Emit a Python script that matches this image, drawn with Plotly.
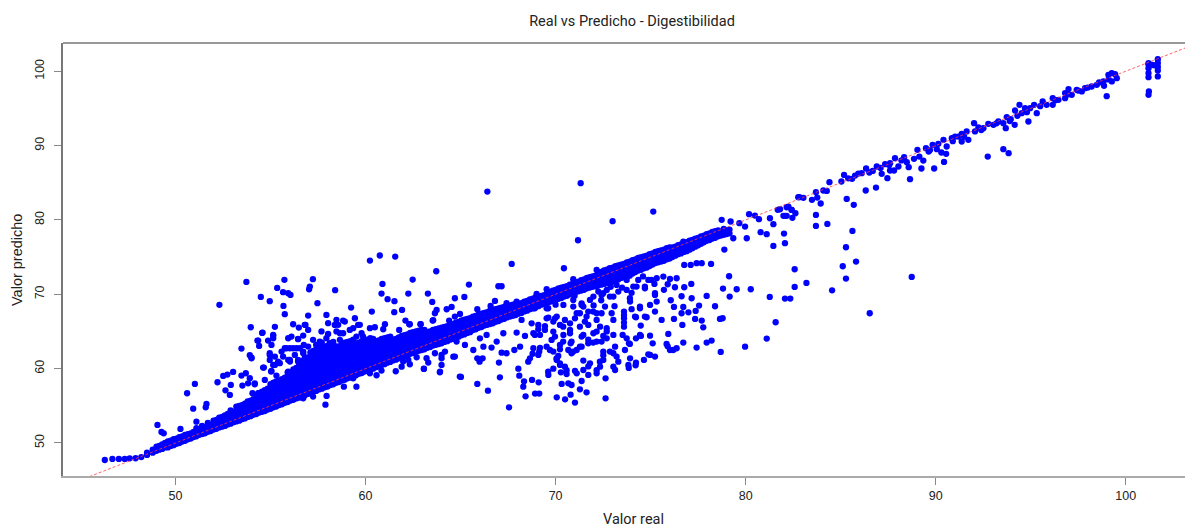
import plotly.graph_objects as go

TITLE = "Real vs Predicho - Digestibilidad"
X_LABEL = "Valor real"
Y_LABEL = "Valor predicho"
X_TICKS = [50, 60, 70, 80, 90, 100]
Y_TICKS = [50, 60, 70, 80, 90, 100]
REF_LINE = [44, 104]

# dense band: (x, [y values at that x])
band_low = [
 (47.9,[47.95]),(48.2,[48.1]),(48.5,[48.4,48.7]),(48.8,[48.7,49.1]),(49.0,[48.95,49.5]),(49.3,[49.2,49.8]),(49.6,[49.4,50.2]),
 (49.9,[49.7,50.5]),(50.2,[50.0,50.8]),(50.5,[50.3,51.1]),(50.8,[50.6,51.3]),(51.1,[50.9,51.7,52.0]),(51.4,[51.2,51.9,52.3]),
 (51.7,[51.5,52.2,52.7]),(52.0,[51.8,52.5,53.0]),(52.3,[52.1,52.8,53.4]),(52.6,[52.3,53.0,53.7]),(52.9,[52.6,53.3,54.0,54.4]),
 (53.2,[52.9,53.6,54.3,54.9]),(53.5,[53.2,53.9,54.6,55.1]),(53.8,[53.5,54.2,54.9,55.6]),(54.1,[53.8,54.5,55.2,55.9]),
 (54.4,[54.1,54.8,55.5,56.2,56.7]),(54.7,[54.3,55.0,55.7,56.4,57.1]),(55.0,[54.6,55.3,56.0,56.7,57.4,57.9]),
 (55.3,[54.9,55.6,56.3,57.0,57.7,58.3]),(55.6,[55.2,55.9,56.6,57.3,58.0,58.6]),(55.9,[55.5,56.2,56.9,57.6,58.3,59.0,59.5]),
]
fill_low = [
 (49.15,[49.1,49.6]),(49.45,[49.4,50.0]),(49.75,[49.6,50.3]),(50.05,[49.9,50.6]),(50.35,[50.2,50.9]),(50.65,[50.5,51.2]),
 (50.95,[50.8,51.5]),(51.25,[51.1,51.8]),(51.55,[51.3,52.1]),(51.85,[51.6,52.4]),(52.15,[51.9,52.6,53.1]),(52.45,[52.2,52.9,53.5]),
 (52.75,[52.5,53.2,53.9]),(53.05,[52.8,53.5,54.2]),(53.35,[53.0,53.7,54.4,55.0]),(53.65,[53.3,54.0,54.7,55.3]),
 (53.95,[53.6,54.3,55.0,55.7]),(54.25,[53.9,54.6,55.3,56.0,56.4]),(54.55,[54.2,54.9,55.6,56.3,56.9]),(54.85,[54.5,55.2,55.9,56.6,57.3]),
 (55.15,[54.8,55.5,56.2,56.9,57.6,58.1]),(55.45,[55.1,55.8,56.5,57.2,57.9,58.4]),(55.75,[55.4,56.1,56.8,57.5,58.2,58.8]),
 (56.05,[55.7,56.4,57.1,57.8,58.5,59.2]),
]
band_mid = [
 (56.2,[55.8,56.5,57.2,57.9,58.6,59.3,59.9]),(56.5,[56.1,56.8,57.5,58.2,58.9,59.6,60.3,60.8]),
 (56.8,[56.4,57.1,57.8,58.5,59.2,59.9,60.6,61.3]),(57.1,[56.7,57.4,58.1,58.8,59.5,60.2,60.9,61.6,62.2]),
 (57.4,[57.0,57.7,58.4,59.1,59.8,60.5,61.2,61.9,62.6,63.2]),(57.7,[57.3,58.0,58.7,59.4,60.1,60.8,61.5,62.2,62.9,63.5]),
 (58.0,[57.6,58.3,59.0,59.7,60.4,61.1,61.8,62.5,63.1]),(58.3,[57.9,58.6,59.3,60.0,60.7,61.4,62.1,62.8,63.6]),
 (58.6,[58.2,58.9,59.6,60.3,61.0,61.7,62.4,63.0]),(58.9,[58.5,59.2,59.9,60.6,61.3,62.0,62.7,63.5]),
 (59.2,[58.8,59.5,60.2,60.9,61.6,62.3,63.0,63.7]),(59.5,[59.1,59.8,60.5,61.2,61.9,62.6,63.4]),
 (59.8,[59.4,60.1,60.8,61.5,62.2,62.9,63.7]),(60.1,[59.7,60.4,61.1,61.8,62.5,63.2,63.9]),
 (60.4,[60.0,60.7,61.4,62.1,62.8,63.5,64.0]),(60.7,[60.3,61.0,61.7,62.4,63.1,63.8]),
 (61.0,[60.6,61.3,62.0,62.7,63.4,64.1]),(61.3,[60.9,61.6,62.3,63.0,63.7,64.3]),
 (61.6,[61.2,61.9,62.6,63.3,64.0]),(61.9,[61.5,62.2,62.9,63.6,64.4]),
 (62.2,[61.8,62.5,63.2,63.9,64.6]),(62.5,[62.1,62.8,63.5,64.2,64.9]),
 (62.8,[62.4,63.1,63.8,64.5,65.1]),(63.1,[62.6,63.3,64.0,64.7,65.2]),
 (63.4,[62.9,63.6,64.3,65.0]),(63.7,[63.2,63.9,64.6,65.3]),
 (64.0,[63.4,64.1,64.8,65.5]),(64.3,[63.7,64.4,65.1,65.7]),
 (64.6,[64.0,64.7,65.4,66.0]),(64.9,[64.3,65.0,65.7,66.3]),
 (65.2,[64.6,65.3,66.0,66.6]),(65.5,[64.9,65.6,66.3,66.8]),
 (65.8,[65.3,66.0,66.7,67.1]),(66.1,[65.6,66.3,66.9,67.4]),
 (66.4,[65.9,66.6,67.2,67.6]),(66.7,[66.1,66.8,67.4,67.9]),
 (67.0,[66.4,67.1,67.7,68.1]),(67.3,[66.7,67.4,68.0,68.3]),
 (67.6,[67.0,67.6,68.2,68.5]),(67.9,[67.2,67.9,68.5,68.7]),
]
fill_mid = [
 (56.35,[56.0,56.7,57.4,58.1,58.8,59.5,60.1]),(56.65,[56.3,57.0,57.7,58.4,59.1,59.8,60.5,61.0]),(56.95,[56.6,57.3,58.0,58.7,59.4,60.1,60.8,61.5]),
 (57.25,[56.9,57.6,58.3,59.0,59.7,60.4,61.1,61.8,62.4]),(57.55,[57.2,57.9,58.6,59.3,60.0,60.7,61.4,62.1,62.8]),
 (57.85,[57.5,58.2,58.9,59.6,60.3,61.0,61.7,62.4,62.9]),(58.15,[57.8,58.5,59.2,59.9,60.6,61.3,62.0,62.7,63.4]),
 (58.45,[58.1,58.8,59.5,60.2,60.9,61.6,62.3,63.0]),(58.75,[58.4,59.1,59.8,60.5,61.2,61.9,62.6,63.3]),
 (59.05,[58.7,59.4,60.1,60.8,61.5,62.2,62.9,63.6]),(59.35,[59.0,59.7,60.4,61.1,61.8,62.5,63.2,63.9]),
 (59.65,[59.3,60.0,60.7,61.4,62.1,62.8,63.5]),(59.95,[59.6,60.3,61.0,61.7,62.4,63.1,63.8]),(60.25,[59.9,60.6,61.3,62.0,62.7,63.4,64.1]),
 (60.55,[60.2,60.9,61.6,62.3,63.0,63.7]),(60.85,[60.5,61.2,61.9,62.6,63.3,64.0]),(61.15,[60.8,61.5,62.2,62.9,63.6,64.2]),
 (61.45,[61.1,61.8,62.5,63.2,63.9]),(61.75,[61.4,62.1,62.8,63.5,64.2]),(62.05,[61.7,62.4,63.1,63.8,64.5]),(62.35,[62.0,62.7,63.4,64.1,64.8]),
 (62.65,[62.3,63.0,63.7,64.4,65.0]),(62.95,[62.5,63.2,63.9,64.6,65.2]),(63.25,[62.8,63.5,64.2,64.9]),(63.55,[63.1,63.8,64.5,65.2]),
 (63.85,[63.3,64.0,64.7,65.4]),(64.15,[63.6,64.3,65.0,65.6]),(64.45,[63.9,64.6,65.3,65.9]),(64.75,[64.2,64.9,65.6,66.2]),
 (65.05,[64.5,65.2,65.9,66.5]),(65.35,[64.8,65.5,66.2,66.7]),(65.65,[65.2,65.9,66.6,67.0]),(65.95,[65.5,66.2,66.8,67.3]),
 (66.25,[65.8,66.5,67.1,67.5]),(66.55,[66.0,66.7,67.3,67.8]),(66.85,[66.3,67.0,67.6,68.0]),(67.15,[66.6,67.3,67.9,68.2]),
 (67.45,[66.9,67.5,68.1,68.4]),(67.75,[67.1,67.8,68.4,68.6]),(68.05,[67.4,68.1,68.7]),
]
band_high = [
 (68.2,[67.5,68.2,68.8]),(68.5,[67.8,68.5,69.1]),(68.8,[68.1,68.8,69.4]),(69.1,[68.4,69.1,69.7]),(69.4,[68.7,69.4,69.9]),
 (69.7,[69.0,69.7,70.3]),(70.0,[69.2,69.9,70.6]),(70.3,[69.5,70.2,70.9]),(70.6,[69.8,70.5,71.1]),(70.9,[70.1,70.8,71.4]),
 (71.2,[70.4,71.1,71.7]),(71.5,[70.6,71.3,72.0]),(71.8,[70.9,71.6,72.3]),(72.1,[71.1,71.8,72.5]),(72.4,[71.3,72.0,72.7,73.0]),
 (72.7,[71.5,72.2,72.9,73.3]),(73.0,[71.7,72.4,73.1,73.6]),(73.3,[72.0,72.7,73.4,73.9]),(73.6,[72.3,73.0,73.7,74.1]),
 (73.9,[72.5,73.2,73.9,74.4]),(74.2,[73.0,73.7,74.3,74.7]),(74.5,[73.3,74.0,74.6,75.0]),(74.8,[73.6,74.3,74.9,75.2]),
 (75.1,[74.0,74.6,75.2,75.5]),(75.4,[74.3,74.9,75.5,75.8]),(75.7,[74.5,75.2,75.8,76.0]),(76.0,[74.8,75.5,76.1,76.3]),
 (76.3,[75.2,75.8,76.4]),(76.6,[75.5,76.1,76.7]),(76.9,[75.8,76.4,77.0]),(77.2,[76.2,76.8,77.3]),(77.5,[76.6,77.2,77.6]),
 (77.8,[77.0,77.5,77.9]),(78.1,[77.3,77.8,78.2]),(78.4,[77.6,78.2,78.5]),(78.7,[77.9,78.4]),(79.0,[78.1,78.6]),
]
fill_high = [
 (68.35,[67.7,68.4,69.0]),(68.65,[68.0,68.7,69.3]),(68.95,[68.3,69.0,69.6]),(69.25,[68.6,69.3,69.8]),(69.55,[68.9,69.6,70.2]),
 (69.85,[69.1,69.8,70.5]),(70.15,[69.4,70.1,70.8]),(70.45,[69.7,70.4,71.0]),(70.75,[70.0,70.7,71.3]),(71.05,[70.3,71.0,71.6]),
 (71.35,[70.5,71.2,71.9]),(71.65,[70.8,71.5,72.2]),(71.95,[71.0,71.7,72.4]),(72.25,[71.2,71.9,72.6,72.9]),(72.55,[71.4,72.1,72.8,73.2]),
 (72.85,[71.6,72.3,73.0,73.5]),(73.15,[71.9,72.6,73.3,73.8]),(73.45,[72.2,72.9,73.6,74.0]),(73.75,[72.4,73.1,73.8,74.3]),
 (74.05,[72.8,73.5,74.1,74.6]),(74.35,[73.2,73.9,74.5,74.9]),(74.65,[73.5,74.2,74.8,75.1]),(74.95,[73.8,74.5,75.1,75.4]),
 (75.25,[74.2,74.8,75.4,75.7]),(75.55,[74.4,75.1,75.7,75.9]),(75.85,[74.7,75.4,76.0,76.2]),(76.15,[75.0,75.7,76.3]),
 (76.45,[75.4,76.0,76.6]),(76.75,[75.7,76.3,76.9]),(77.05,[76.0,76.6,77.2]),(77.35,[76.4,77.0,77.5]),(77.65,[76.8,77.4,77.8]),
 (77.95,[77.2,77.7,78.1]),(78.25,[77.5,78.0,78.4]),(78.55,[77.8,78.3,78.6]),(78.85,[78.0,78.5,78.8]),(79.15,[78.2,78.7]),
]

# scattered points above the band
upper_pts = [
 (46.28,47.71),(46.68,47.85),(47.02,47.85),(47.33,47.85),(47.59,47.94),
 (49.05,52.43),(49.26,51.48),(49.38,51.3),(50.26,51.89),(51.1,52.87),(50.93,54.62),(51.63,55.25),(51.59,54.8),(50.61,56.69),
 (51.02,57.94),(52.21,58.17),(52.51,59.02),(52.73,59.2),(53.03,59.56),(52.91,57.81),(52.63,57.09),(52.86,56.46),(53.47,59.07),
 (53.7,59.38),(53.91,58.71),(53.52,57.72),(53.82,58.03),(54.17,57.9),(54.05,56.69),(54.35,56.69),(53.47,62.7),(53.91,61.8),
 (54.0,61.49),(54.65,60.14),(55.03,59.6),(55.31,59.07),(55.05,63.19),(54.4,63.06),(54.31,63.78),(54.56,64.81),(53.96,65.57),
 (55.23,65.62),(54.87,63.78),(55.14,64.45),(54.96,61.85),(54.96,61.17),(55.4,60.95),(55.23,60.5),(55.66,61.62),(55.75,62.74),
 (56.02,62.74),(56.37,62.74),(56.1,64.31),(56.45,64.0),(56.72,64.45),(56.19,65.97),(56.49,65.53),(56.84,65.88),(56.98,65.21),
 (56.75,63.19),(56.98,62.97),(56.02,61.17),(56.45,61.17),(56.72,62.07),(55.93,59.6),(56.19,58.93),(53.73,71.67),(52.31,68.58),
 (54.49,69.65),(54.96,69.07),(55.35,70.86),(55.73,71.94),(55.66,70.28),(55.93,70.15),(56.05,69.92),(55.68,68.44),(55.75,67.32),
 (56.98,67.14),(57.03,70.68),(57.07,71.04),(57.23,72.03),(57.47,68.8),(58.4,70.55),(57.94,67.23),(59.24,68.22),(60.23,74.54),
 (60.75,75.22),(61.56,75.08),(60.89,71.4),(60.84,70.1),(61.16,69.34),(61.52,69.07),(60.33,67.68),(61.51,67.59),(59.44,66.78),
 (58.47,66.56),(58.82,66.47),(58.03,66.11),(58.38,65.88),(59.61,65.88),(59.35,65.44),(61.02,65.97),(60.93,65.3),(60.23,65.44),
 (60.49,65.57),(62.1,66.47),(62.33,65.97),(62.89,65.97),(63.56,66.51),(64.4,66.47),(57.68,65.0),(57.24,63.87),(57.94,64.09),
 (58.82,64.76),(58.47,65.0),(59.79,64.76),(59.52,64.31),(58.82,63.42),(61.77,65.21),
 (66.41,83.82),(71.32,84.95),(75.14,81.13),(73.0,79.83),(71.18,77.27),(67.69,74.09),(70.44,73.5),(63.72,73.1),(62.48,71.98),
 (65.44,71.31),(66.99,71.08),(67.16,71.08),(62.25,70.1),(63.28,70.1),(64.7,69.47),(65.2,69.65),(63.51,68.97),(66.81,69.11),
 (64.53,68.3),(64.27,67.99),(63.74,67.9),(61.92,67.9),(65.88,67.99),(66.58,68.44),(63.65,67.45),(64.97,67.36),(64.7,67.0),
 (63.53,66.46),(62.3,65.97),(62.9,65.97),(67.42,68.8),(67.95,69.02),(69.0,70.05),(69.53,70.68),(70.93,72.03),(72.16,73.28),
 (76.72,77.09),(78.74,80.01),(79.21,79.79),(80.18,80.77),(80.7,80.1),(80.49,80.59),(81.28,80.23),(81.69,81.36),(82.25,81.8),
 (82.77,83.06),(82.42,81.36),(82.07,80.55),(81.46,79.43),
 (58.91,66.33),(59.7,65.89),(58.56,65.89),(56.8,65.89),(55.14,64.54),(54.58,64.85),(55.14,64.09),(54.35,63.78),(55.93,64.09),
 (56.45,63.96),(58.03,64.67),(58.65,64.76),(59.17,65.21),(57.59,63.64),(58.12,63.42),(58.65,63.87),(59.87,64.31),(55.58,62.3),
 (55.84,62.74),(56.19,62.74),(56.54,62.74),(56.72,62.3),(56.28,61.85),(56.8,61.4),(55.93,61.17),(55.23,61.62),(54.96,62.07),
 (55.49,60.73),(55.14,60.5),(54.61,60.14),(55.05,59.69),(54.0,61.4),(56.02,60.95),(56.45,60.95),(54.17,58.03),(54.7,58.48),
]

# scattered points below the band
lower_pts = [
 (57.89,55.16),(57.95,56.33),(58.86,57.58),(59.52,57.58),(60.58,59.11),(61.59,59.65),(63.07,59.96),(64.0,60.5),(63.91,59.51),
 (64.7,61.62),(64.96,58.93),(64.0,61.4),(63.21,61.4),(62.33,60.59),(61.98,60.95),(60.84,59.74),(60.23,59.38),(59.35,58.71),
 (57.24,56.24),(56.72,56.01),(56.98,56.69),(63.92,59.6),(63.07,60.0),(63.3,60.81),(62.69,61.53),(64.0,61.84),(64.62,61.61),
 (61.9,60.27),(62.25,61.17),(65.23,63.19),(64.79,63.64),(64.18,62.29),(63.65,62.07),(66.37,64.53),(67.25,64.76),(66.02,64.08),
 (79.67,79.56),(79.97,79.11),(80.06,77.54),(79.35,77.54),(80.79,78.35),(81.11,78.08),(81.46,76.51),(78.88,76.02),(78.18,74.09),
 (77.69,74.18),(77.42,74.18),(77.11,73.95),(76.77,73.95),(79.13,72.43),(78.81,70.77),(79.53,70.68),(80.27,70.68),(79.16,69.69),
 (81.27,69.65),(81.58,66.24),(81.11,64.04),(79.97,62.96),(78.69,62.25),(77.42,62.83),(77.95,63.5),(78.21,63.77),(76.72,63.5),
 (76.37,62.74),(76.02,62.51),(75.84,63.32),(75.93,64.67),(78.65,66.69),(78.79,66.78),(77.77,65.56),(77.69,66.46),(77.34,66.69),
 (76.67,65.88),(76.99,67.58),(76.63,67.45),(76.23,66.69),(75.58,66.55),(77.37,67.76),(77.55,68.48),(78.39,68.39),(77.95,69.78),
 (77.16,69.47),(76.63,69.74),(76.06,69.2),(76.23,68.3),(76.72,68.3),(77.14,71.4),(76.77,70.95),(76.28,70.95),(75.9,71.35),
 (76.02,72.07),(76.37,72.16),(75.67,72.38),(75.32,72.16),(75.23,69.92),(75.32,69.02),(74.97,68.57),(75.23,67.67),(74.44,68.35),
 (74.18,67.0),(74.79,66.91),(74.48,65.79),(74.44,64.53),(74.97,64.44),(75.11,63.41),(74.88,61.93),(74.65,61.17),(74.21,60.45),
 (73.85,60.09),(73.92,61.39),(73.65,62.51),(73.86,63.41),(74.23,64.08),(73.6,67.67),(73.6,66.78),(73.6,65.65),(73.53,64.53),
 (73.13,62.96),(73.3,60.94),(73.13,59.82),(72.51,61.17),(72.34,60.27),(72.16,59.37),(72.63,58.7),(72.63,56.01),(71.63,56.82),
 (71.28,57.22),(71.37,58.34),(71.02,55.43),(70.5,55.87),(70.79,56.5),(70.06,56.14),(70.84,57.8),(70.67,58.03),(70.32,57.94),
 (69.14,56.64),(68.92,56.64),(68.42,56.28),(68.3,57.58),(68.34,58.3),(68.76,58.48),(69.11,58.16),(67.55,54.8),(66.44,57.04),
 (65.88,57.94),(65.02,58.88),(67.07,58.83),(68.04,60.0),(68.09,59.06),(67.02,60.81),(65.88,61.39),(66.16,61.39),(66.0,60.94),
 (65.67,62.51),(66.2,62.96),(66.63,62.83),(66.9,63.64),(67.16,62.15),(67.42,62.07),(67.83,62.51),(68.13,62.96),(68.83,62.74),
 (69.14,62.29),(69.09,61.84),(68.56,60.94),(68.65,61.39),(69.62,59.15),(69.88,60.0),(70.28,59.51),(70.58,59.28),(71.11,59.37),
 (71.46,61.08),(71.81,60.72),(71.72,59.15),(70.06,61.17),(70.23,60.5),(70.14,61.7),(69.88,62.29),(69.53,62.96),(70.23,63.19),
 (70.79,63.41),(70.93,62.29),(71.37,62.96),(71.72,63.41),(72.16,63.64),(72.51,62.29),(73.04,62.07),(67.95,64.85),(68.39,64.4),
 (68.83,64.76),(69.18,64.53),(69.44,65.21),(69.88,64.98),(70.41,64.53),(70.76,64.76),(71.46,64.53),(71.99,64.76),(72.51,64.4),
 (73.04,64.53),(72.34,65.65),(72.69,65.43),(71.72,65.88),(71.28,65.65),(70.76,66.1),(70.23,65.88),(69.62,66.87),(70.06,67.0),
 (68.74,66.1),(69.09,65.88),(68.21,66.55),(71.11,67.45),(71.63,67.0),(72.16,67.45),(72.95,67.45),(73.04,66.55),(72.6,68.35),
 (70.93,69.24),(70.41,68.57),(69.53,68.12),(71.37,68.57),(71.99,69.69),(72.51,70.14),(73.04,69.69),(73.3,70.36),(73.92,69.02),
 (74.09,71.04),(74.7,71.04),(74.88,71.93),(74.35,71.93),(73.74,71.93),(73.21,71.26),(72.69,70.59),(72.16,71.04),
 (71.37,68.79),(71.81,69.24),(72.25,70.36),(72.42,69.92),(72.86,69.69),(73.74,70.59),(73.91,69.47),(74.26,71.04),(74.7,70.81),
 (75.05,71.93),(75.23,70.14),(74.44,68.12),(74.7,67.0),(74.23,66.91),(73.6,67.2),(73.6,66.2),(73.74,64.08),(73.91,63.32),
 (72.69,65.0),(72.16,64.98),(71.72,63.9),(71.37,64.31),(70.76,65.2),(70.4,65.65),(69.88,66.33),(69.53,66.77),(69.09,65.3),
 (69.44,65.7),(69.97,64.31),(68.91,64.53),(68.79,62.0),(69.18,62.8),(69.7,62.51),(70.23,62.6),(70.84,63.64),(71.28,62.96),
 (70.84,62.06),(70.05,61.39),(70.23,60.72),(70.49,60.27),(69.61,59.6),(70.58,59.8),(71.02,59.7),(71.46,59.82),(71.72,60.3),
 (72.16,59.8),(72.33,60.94),(72.51,61.8),(72.86,62.29),(73.21,61.62),(73.04,60.27),(73.83,60.5),(74.23,60.8),(75.23,61.62),
 (74.97,61.84),(74.49,64.4),(75.9,63.0),(76.19,62.51),(71.28,67.45),(71.02,66.77),(71.54,66.33),(72.16,66.55),(72.42,67.45),
 (71.98,67.67),(71.72,67.67),(71.46,68.35),(70.93,68.35),(70.49,66.55),(69.61,68.12),(69.18,69.02),(68.91,68.12),(72.69,64.08),
 (72.42,63.64),(71.98,63.5),(69.97,66.77),(69.79,63.86),(70.4,63.64),(70.67,62.51),(71.11,62.51),(72.4,69.2),(73.5,70.9),
 (72.9,71.0),(74.0,70.2),(71.0,69.8),(70.0,68.6),(73.1,68.4),(74.0,68.0),(72.0,68.5),(75.7,70.6),(75.2,71.4),(74.6,72.4),
]

# right-hand part of the cloud, x above 81.5
right_pts = [
 (82.83,83.06),(83.04,82.97),(83.49,82.7),(83.7,83.73),(83.77,83.01),(83.95,82.21),(84.09,83.96),(84.27,83.91),(84.41,85.08),
 (85.04,85.17),(85.18,86.06),(85.6,85.53),(85.76,85.97),(85.93,86.24),(86.11,86.29),(86.34,86.92),(86.51,86.38),(86.69,86.6),
 (86.9,87.19),(87.16,86.2),(87.34,87.5),(87.46,85.62),(87.6,86.65),(87.81,86.65),(87.86,88.31),(87.6,87.63),(88.04,87.19),
 (88.34,88.44),(88.48,87.77),(88.58,87.1),(88.65,85.48),(88.86,88.22),(89.04,89.43),(89.14,88.53),(89.25,86.92),(89.35,87.99),
 (89.49,89.65),(89.63,89.2),(89.84,90.1),(89.92,86.92),(90.06,89.52),(90.14,90.24),(90.3,89.07),(90.55,88.89),(90.44,87.81),
 (90.41,90.78),(90.58,89.88),(90.85,91.0),(91.02,91.22),(91.2,91.22),(91.37,91.58),(91.37,90.55),(91.63,91.9),(91.72,90.78),
 (92.02,93.02),(92.07,91.9),(92.25,92.44),(92.51,92.35),(92.77,92.93),(92.74,88.53),(93.04,92.8),(93.3,93.24),(93.56,89.52),
 (93.84,88.98),(93.56,93.02),(93.69,92.35),(93.74,93.83),(93.95,93.56),(94.16,92.8),(94.18,94.72),(94.41,95.49),(94.53,94.36),
 (94.7,95.04),(94.88,93.24),(94.97,95.04),(95.18,95.49),(95.32,94.36),(95.63,95.93),(95.84,95.49),(96.16,96.38),(96.16,95.49),
 (96.46,96.16),(96.81,97.06),(96.99,97.6),(96.81,96.38),(97.16,96.83),(97.42,97.5),(97.69,97.28),(97.86,97.73),(98.21,97.95),
 (98.48,98.18),(98.83,98.63),(98.86,98.04),(99.0,96.65),(99.09,99.52),(99.27,99.75),(99.27,98.63),(99.53,99.07),(99.44,99.61),
 (101.2,101.09),(101.2,100.42),(101.2,99.75),(101.2,99.2),(101.22,97.28),(101.2,96.83),(101.69,101.63),(101.69,101.1),
 (101.69,100.1),(101.69,99.3),(101.4,100.87),(101.2,100.9),(101.69,100.6),(101.5,100.8),
 (81.81,81.44),(82.16,81.71),(82.42,81.35),(82.62,80.9),(81.99,80.55),(82.16,80.55),(82.46,80.28),(83.7,80.68),(83.7,79.2),
 (84.3,79.47),(82.02,78.17),(82.07,76.87),(82.58,73.37),(82.58,70.99),(83.2,71.53),(82.07,69.42),(82.35,69.42),(84.55,70.54),
 (85.11,73.77),(85.28,72.11),(85.81,74.4),(85.28,76.33),(85.62,78.53),(85.69,82.03),(85.32,82.83),(86.32,83.96),(86.86,84.36),
 (86.53,67.45),(88.74,72.34),
 (85.4,85.6),(87.1,87.0),(87.55,87.4),(88.2,88.0),(89.7,89.4),(90.9,90.6),(91.5,91.2),(92.4,92.1),(93.2,93.0),(93.9,93.3),
 (94.3,94.0),(94.8,94.5),(95.5,95.3),(96.3,96.1),(97.0,96.9),(97.5,97.4),(98.0,97.8),(98.6,98.5),(99.1,98.9),
]

xs, ys = [], []
for columns in (band_low, fill_low, band_mid, fill_mid, band_high, fill_high):
    for x_val, y_vals in columns:
        for y_val in y_vals:
            xs.append(x_val)
            ys.append(y_val)
for pts in (upper_pts, lower_pts, right_pts):
    for x_val, y_val in pts:
        xs.append(x_val)
        ys.append(y_val)

fig = go.Figure()
fig.add_trace(go.Scatter(x=xs, y=ys, mode="markers",
                         marker=dict(color="#0000ff", size=6.3, line=dict(width=0)),
                         showlegend=False))
fig.add_trace(go.Scatter(x=REF_LINE, y=REF_LINE, mode="lines",
                         line=dict(color="rgba(255,60,60,0.8)", width=1, dash="3px,2px"),
                         showlegend=False))

tick_font = dict(family="Liberation Sans, Arial, sans-serif", size=12.5, color="#222222")
title_font = dict(family="Roboto, Arial, sans-serif", size=14.5, color="#222222")
y_title_font = dict(family="Liberation Sans, Arial, sans-serif", size=14.5, color="#222222")

fig.update_layout(
    width=1185, height=529, margin=dict(l=63, r=0, t=43, b=53),
    paper_bgcolor="white", plot_bgcolor="white", showlegend=False,
    title=dict(text=TITLE, x=632/1185, xanchor="center", y=1-21/529, yanchor="middle", font=title_font),
    xaxis=dict(range=[44.08, 103.12], tickvals=X_TICKS, ticks="outside", ticklen=7, tickwidth=1,
               tickcolor="#888888", showgrid=False, zeroline=False, showline=True, linecolor="#aaaaaa",
               linewidth=1.5, tickfont=tick_font),
    yaxis=dict(range=[45.56, 103.8], tickvals=Y_TICKS, ticks="outside", ticklen=7, tickwidth=1,
               tickcolor="#888888", showgrid=False, zeroline=False, showline=True, linecolor="#777777",
               linewidth=1.5, tickfont=tick_font, tickangle=-90, ticklabelstandoff=5),
    annotations=[
        dict(text=X_LABEL, xref="paper", yref="paper", x=(633-63)/1122, y=-(519.5-476)/433,
             xanchor="center", yanchor="middle", showarrow=False, font=title_font),
        dict(text=Y_LABEL, xref="paper", yref="paper", x=-(63-17)/1122, y=(476-260)/433,
             xanchor="center", yanchor="middle", textangle=-90, showarrow=False, font=y_title_font),
    ],
    shapes=[dict(type="line", xref="paper", yref="paper", x0=0, x1=1, y0=1, y1=1,
                 line=dict(color="#777777", width=1.5))],
)
fig.write_html("out.html", config={"displayModeBar": False}, post_script="document.body.style.margin='0';")
